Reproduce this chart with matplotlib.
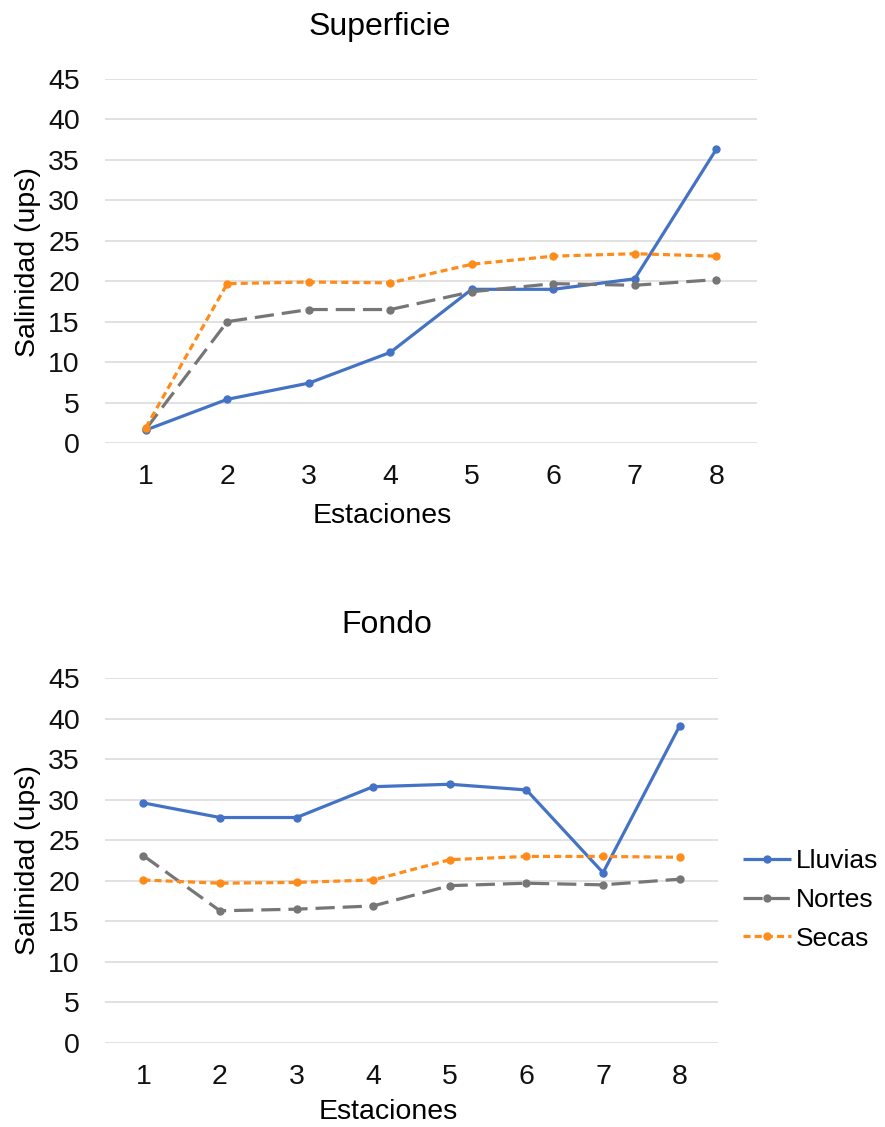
import matplotlib
matplotlib.use("Agg")
import matplotlib.pyplot as plt

estaciones = [1, 2, 3, 4, 5, 6, 7, 8]
yticks = [0, 5, 10, 15, 20, 25, 30, 35, 40, 45]

sup_lluvias = [1.6, 5.4, 7.4, 11.2, 19.0, 19.0, 20.3, 36.3]
sup_nortes = [1.7, 15.0, 16.5, 16.5, 18.7, 19.7, 19.5, 20.2]
sup_secas = [1.9, 19.7, 19.9, 19.8, 22.1, 23.1, 23.4, 23.1]

fon_lluvias = [29.6, 27.8, 27.8, 31.6, 31.9, 31.2, 21.0, 39.1]
fon_nortes = [23.1, 16.3, 16.5, 16.9, 19.4, 19.7, 19.5, 20.2]
fon_secas = [20.1, 19.7, 19.8, 20.1, 22.6, 23.0, 23.0, 22.9]

series_names = ["Lluvias", "Nortes", "Secas"]
colors = ["#4472C4", "#767676", "#FF8C1A"]
styles = [(0, ()), (0, (6, 2.5)), (0, (2.2, 1.3))]

plt.rcParams['font.family'] = ['Liberation Sans', 'DejaVu Sans']

W, H = 885, 1127
fig = plt.figure(figsize=(W / 100, H / 100), dpi=100)

fs_tick = 20.5
fs_lab = 20.5
fs_title = 23
fs_leg = 19

def px_axes(l, t, r, b):
    return fig.add_axes([l / W, 1 - b / H, (r - l) / W, (b - t) / H])

def style_ax(ax):
    ax.set_xlim(0.5, 8.5)
    ax.set_ylim(0, 45)
    ax.set_yticks(yticks)
    ax.set_xticks(estaciones)
    ax.set_xticklabels([str(e) for e in estaciones])
    for s in ax.spines.values():
        s.set_visible(False)
    ax.grid(axis='y', color='#DCDCDC', linewidth=1.2)
    ax.set_axisbelow(True)
    ax.tick_params(axis='both', length=0, labelsize=fs_tick, colors='#111111')
    ax.tick_params(axis='y', pad=18)
    ax.tick_params(axis='x', pad=15)

def draw(ax, data):
    handles = []
    for vals, name, c, ls in zip(data, series_names, colors, styles):
        h, = ax.plot(estaciones, vals, color=c, linestyle=ls, linewidth=2.3,
                     marker='o', markersize=5, label=name, clip_on=False)
        handles.append(h)
    return handles

ax1 = px_axes(105, 79, 757, 443)
style_ax(ax1)
draw(ax1, [sup_lluvias, sup_nortes, sup_secas])

ax2 = px_axes(105, 678, 718, 1043)
style_ax(ax2)
handles = draw(ax2, [fon_lluvias, fon_nortes, fon_secas])

fig.text(380 / W, 1 - 27 / H, "Superficie", ha='center', va='center', fontsize=fs_title)
fig.text(387 / W, 1 - 625 / H, "Fondo", ha='center', va='center', fontsize=fs_title)
fig.text(382 / W, 1 - 516 / H, "Estaciones", ha='center', va='center', fontsize=fs_lab)
fig.text(388 / W, 1 - 1112 / H, "Estaciones", ha='center', va='center', fontsize=fs_lab)
fig.text(28 / W, 1 - 262 / H, "Salinidad (ups)", ha='center', va='center', rotation=90, fontsize=fs_lab)
fig.text(28 / W, 1 - 860 / H, "Salinidad (ups)", ha='center', va='center', rotation=90, fontsize=fs_lab)

fig.legend(handles, series_names, loc='center left', bbox_to_anchor=(743 / W, 1 - 900 / H),
           frameon=False, fontsize=fs_leg, handlelength=1.8, handletextpad=0.2,
           labelspacing=0.55, borderaxespad=0, borderpad=0)

fig.savefig("out.png", dpi=100, facecolor='white')
